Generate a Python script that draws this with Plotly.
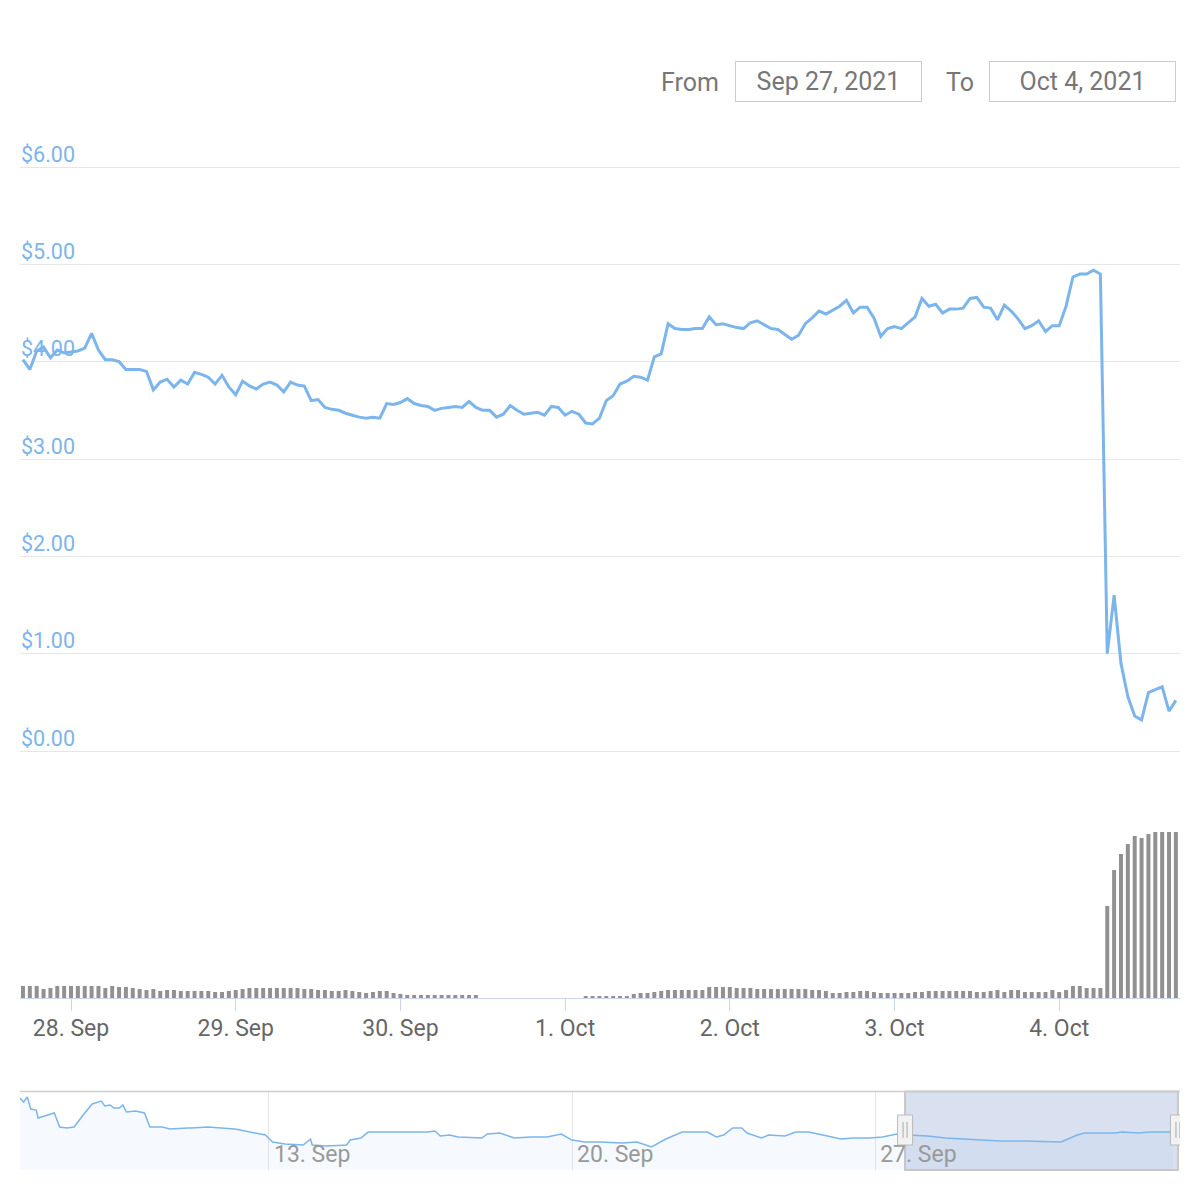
import pandas as pd
import plotly.graph_objects as go

# ---------------- data ----------------
START = "2021-09-27 17:00"

price = [
    4.02, 3.92, 4.11, 4.15, 4.04, 4.12, 4.09, 4.10, 4.11, 4.14,
    4.29, 4.12, 4.02, 4.02, 4.00, 3.92, 3.92, 3.92, 3.90, 3.71,
    3.79, 3.82, 3.74, 3.81, 3.77, 3.89, 3.87, 3.84, 3.77, 3.86,
    3.74, 3.66, 3.80, 3.75, 3.72, 3.77, 3.79, 3.76, 3.69, 3.79,
    3.76, 3.75, 3.60, 3.61, 3.53, 3.51, 3.50, 3.47, 3.45, 3.43,
    3.42, 3.43, 3.42, 3.57, 3.56, 3.58, 3.62, 3.57, 3.55, 3.54,
    3.50, 3.52, 3.53, 3.54, 3.53, 3.59, 3.53, 3.50, 3.50, 3.43,
    3.46, 3.55, 3.50, 3.46, 3.47, 3.48, 3.45, 3.54, 3.53, 3.45,
    3.49, 3.46, 3.37, 3.36, 3.42, 3.60, 3.65, 3.77, 3.80, 3.85,
    3.84, 3.81, 4.05, 4.08, 4.39, 4.34, 4.33, 4.33, 4.34, 4.34,
    4.46, 4.38, 4.39, 4.37, 4.35, 4.34, 4.40, 4.42, 4.38, 4.34,
    4.33, 4.28, 4.23, 4.27, 4.39, 4.45, 4.52, 4.49, 4.53, 4.57,
    4.63, 4.50, 4.56, 4.56, 4.45, 4.26, 4.34, 4.36, 4.34, 4.40,
    4.46, 4.65, 4.57, 4.59, 4.50, 4.54, 4.54, 4.55, 4.65, 4.66,
    4.56, 4.55, 4.43, 4.58, 4.52, 4.44, 4.34, 4.37, 4.42, 4.31,
    4.37, 4.37, 4.57, 4.87, 4.90, 4.90, 4.94, 4.90, 1.00, 1.60,
    0.90, 0.56, 0.36, 0.32, 0.60, 0.63, 0.66, 0.41, 0.52,
]

volume = [
    12, 12, 12, 9, 10, 12, 12, 12, 12, 12,
    12, 12, 10, 12, 11, 11, 10, 9, 8, 9,
    7, 8, 8, 7, 7, 7, 7, 7, 6, 6,
    7, 8, 9, 10, 10, 10, 10, 10, 10, 10,
    10, 9, 9, 8, 8, 7, 7, 8, 7, 6,
    5, 6, 7, 7, 5, 4, 3, 3, 3, 3,
    3, 3, 3, 3, 3, 3, 3,
    0, 0, 0, 0, 0, 0, 0, 0, 0, 0, 0, 0, 0, 0, 0,
    2, 2, 2, 2, 2, 2, 2, 4, 5, 5,
    6, 7, 8, 8, 8, 8, 8, 8,
    11, 11, 11, 11, 10, 10, 10,
    9, 9, 9, 9, 9, 9, 9, 9, 8,
    8, 7, 5, 5, 6, 6, 7, 7, 6, 5,
    5, 5, 5, 5, 6, 6, 7, 7,
    7, 7, 7, 7, 7, 6, 6, 7, 8,
    6, 8, 8, 6, 6, 6, 6, 8, 6, 8, 12, 12, 10, 10, 10,
    92, 128, 144, 154, 162, 160, 164, 166, 166, 166, 166,
]

nav_times = [
    "2021-09-07 06:00", "2021-09-07 08:00", "2021-09-07 10:00", "2021-09-07 12:00",
    "2021-09-07 15:00", "2021-09-07 16:00", "2021-09-08 01:00", "2021-09-08 04:00",
    "2021-09-08 08:00", "2021-09-08 12:00", "2021-09-08 17:00", "2021-09-08 22:00",
    "2021-09-09 03:00", "2021-09-09 05:00", "2021-09-09 08:00", "2021-09-09 10:00",
    "2021-09-09 13:00", "2021-09-09 15:00", "2021-09-09 17:00", "2021-09-09 22:00",
    "2021-09-10 03:00", "2021-09-10 06:00", "2021-09-10 13:00", "2021-09-10 17:00",
    "2021-09-11 03:00", "2021-09-11 05:00", "2021-09-11 14:00", "2021-09-11 23:00",
    "2021-09-12 05:00", "2021-09-12 08:00", "2021-09-12 13:00", "2021-09-12 22:00",
    "2021-09-13 02:00", "2021-09-13 09:00", "2021-09-13 19:00", "2021-09-13 23:00",
    "2021-09-14 00:00", "2021-09-14 08:00", "2021-09-14 19:00", "2021-09-14 21:00",
    "2021-09-15 03:00", "2021-09-15 07:00", "2021-09-16 16:00", "2021-09-16 20:00",
    "2021-09-16 23:00", "2021-09-17 04:00", "2021-09-17 09:00", "2021-09-17 22:00",
    "2021-09-18 01:00", "2021-09-18 08:00", "2021-09-18 16:00", "2021-09-19 01:00",
    "2021-09-19 10:00", "2021-09-19 18:00", "2021-09-20 00:00", "2021-09-20 07:00",
    "2021-09-20 15:00", "2021-09-21 04:00", "2021-09-21 12:00", "2021-09-21 20:00",
    "2021-09-22 04:00", "2021-09-22 13:00", "2021-09-22 21:00", "2021-09-23 03:00",
    "2021-09-23 08:00", "2021-09-23 12:00", "2021-09-23 17:00", "2021-09-23 22:00",
    "2021-09-24 01:00", "2021-09-24 09:00", "2021-09-24 13:00", "2021-09-24 22:00",
    "2021-09-25 04:00", "2021-09-25 11:00", "2021-09-25 19:00", "2021-09-26 05:00",
    "2021-09-26 12:00", "2021-09-26 21:00", "2021-09-27 04:00", "2021-09-27 12:00",
    "2021-09-27 18:00", "2021-09-28 05:00", "2021-09-28 15:00", "2021-09-29 13:00",
    "2021-09-29 21:00", "2021-09-30 10:00", "2021-10-01 07:00", "2021-10-01 16:00",
    "2021-10-01 20:00", "2021-10-02 13:00", "2021-10-02 17:00", "2021-10-03 02:00",
    "2021-10-03 08:00", "2021-10-03 21:00",
]
nav_values = [
    8.57, 8.10, 8.69, 7.26, 7.14, 6.19, 6.79, 5.12,
    5.00, 5.12, 6.55, 7.86, 8.21, 7.62, 7.74, 7.38,
    7.38, 7.74, 6.90, 7.02, 6.79, 5.12, 5.12, 4.88,
    5.00, 5.00, 5.12, 5.00, 4.88, 4.76, 4.52, 4.17,
    3.33, 3.10, 2.98, 3.69, 2.98, 2.86, 2.98, 3.57,
    3.81, 4.52, 4.52, 4.64, 4.05, 4.17, 3.93, 3.81,
    4.29, 4.40, 3.81, 3.93, 3.93, 4.29, 3.57, 3.33,
    3.33, 3.21, 3.33, 2.74, 3.69, 4.52, 4.52, 4.52,
    3.93, 4.17, 5.00, 5.00, 4.40, 3.81, 4.17, 4.05,
    4.52, 4.52, 4.17, 3.69, 3.81, 3.81, 3.93, 4.29,
    4.17, 4.05, 3.81, 3.57, 3.45, 3.45, 3.33, 4.17,
    4.40, 4.40, 4.52, 4.40, 4.52, 4.52,
]

price_ticks = [0, 1, 2, 3, 4, 5, 6]
price_tick_text = ["$%.2f" % v for v in price_ticks]
day_ticks = ["2021-09-28", "2021-09-29", "2021-09-30", "2021-10-01",
             "2021-10-02", "2021-10-03", "2021-10-04"]
nav_ticks = ["2021-09-13", "2021-09-20", "2021-09-27"]
range_from_label = "Sep 27, 2021"
range_to_label = "Oct 4, 2021"

# ---------------- figure ----------------
times = pd.date_range(START, periods=len(price), freq="h")

OFF = 8.0            # page body margin
W = H = 1192.0

def px(p):  # page column -> paper x
    return (p - OFF) / W

def py(p):  # page row -> paper y
    return 1 - (p - OFF) / H

xdom = [px(20), px(1180)]
main_range = ["2021-09-27 16:34", "2021-10-04 17:36"]
nav_range = ["2021-09-07 06:00", "2021-10-04 00:58"]
sel_range = ["2021-09-27 16:34", "2021-10-03 23:50"]
NAV_MAX = 9.29
PX_PER_DOLLAR = (751 - 167) / 6.0
Y_TOP = 6.3
Y_BOT = -0.05
FONT = "Roboto"

fig = go.Figure()
fig.add_trace(go.Scatter(x=times, y=price, mode="lines",
                         line=dict(color="#7cb5ec", width=3),
                         xaxis="x", yaxis="y", hoverinfo="skip"))
fig.add_trace(go.Bar(x=times, y=volume, marker=dict(color="#919191", line=dict(width=0)),
                     width=0.58 * 3600 * 1000, xaxis="x2", yaxis="y2", hoverinfo="skip"))
fig.add_trace(go.Scatter(x=nav_times, y=nav_values, mode="lines",
                         line=dict(color="#7cb5ec", width=1.5),
                         fill="tozeroy", fillcolor="rgba(124,181,236,0.07)",
                         xaxis="x3", yaxis="y3", hoverinfo="skip"))

fig.update_layout(
    width=int(W), height=int(H),
    margin=dict(l=0, r=0, t=0, b=0),
    paper_bgcolor="white", plot_bgcolor="white",
    showlegend=False,
    font=dict(family=FONT, color="#666666"),
    xaxis=dict(domain=xdom, anchor="y", type="date", range=main_range,
               showticklabels=False, showgrid=False, zeroline=False, showline=False),
    yaxis=dict(domain=[py(751 - Y_BOT * PX_PER_DOLLAR), py(751 - Y_TOP * PX_PER_DOLLAR)],
               anchor="x", range=[Y_BOT, Y_TOP], tickvals=price_ticks,
               showticklabels=False, ticks="",
               showgrid=True, gridcolor="#e6e6e6", gridwidth=1,
               zeroline=False, showline=False),
    xaxis2=dict(domain=xdom, anchor="y2", type="date", matches="x",
                tickvals=day_ticks, tickformat="%-d. %b",
                ticks="outside", ticklen=12, tickcolor="#ccd6eb", tickwidth=1,
                ticklabelstandoff=-3,
                showline=True, linecolor="#ccd6eb", linewidth=1,
                showgrid=False, zeroline=False,
                tickfont=dict(size=23, color="#666666", family=FONT)),
    yaxis2=dict(domain=[py(998), py(832)], anchor="x2", range=[0, 166], visible=False),
    xaxis3=dict(domain=xdom, anchor="y3", type="date", range=nav_range,
                tickvals=nav_ticks, tickformat="%-d. %b",
                ticklabelposition="inside right", ticks="", ticklabelshift=5,
                ticklabelstandoff=-3,
                showgrid=True, gridcolor="#e6e6e6", gridwidth=1,
                showline=False, zeroline=False,
                tickfont=dict(size=23, color="#999999", family=FONT)),
    yaxis3=dict(domain=[py(1170), py(1092)], anchor="x3", range=[0, NAV_MAX], visible=False),
)

shapes = []
# navigator top outline
shapes.append(dict(type="line", xref="paper", yref="paper", x0=xdom[0], x1=xdom[1],
                   y0=py(1091.5), y1=py(1091.5), line=dict(color="#cccccc", width=1.5)))
# selected region mask
shapes.append(dict(type="rect", xref="x3", yref="paper", x0=sel_range[0], x1=sel_range[1],
                   y0=py(1170), y1=py(1091.5), fillcolor="rgba(102,133,194,0.25)",
                   line=dict(color="#c8c8c8", width=2), layer="below"))
# handles
hy = NAV_MAX * (1170 - 1130) / 78.0
for t in sel_range:
    shapes.append(dict(type="rect", xref="x3", yref="y3", xsizemode="pixel", ysizemode="pixel",
                       xanchor=t, yanchor=hy, x0=-7.5, x1=7.5, y0=-15, y1=15,
                       fillcolor="#f2f2f2", line=dict(color="#bbbbbb", width=1)))
    for dx in (-2, 2):
        shapes.append(dict(type="line", xref="x3", yref="y3", xsizemode="pixel", ysizemode="pixel",
                           xanchor=t, yanchor=hy, x0=dx, x1=dx, y0=-8, y1=8,
                           line=dict(color="#aaaaaa", width=1)))
fig.update_layout(shapes=shapes)

box_font = dict(size=25, color="#777777", family=FONT)
annotations = [
    dict(text="From", xref="paper", yref="paper", x=px(721), y=py(82), xanchor="right",
         yanchor="middle", showarrow=False, font=box_font),
    dict(text=range_from_label, xref="paper", yref="paper", x=px(735), y=py(61),
         xanchor="left", yanchor="top", showarrow=False, width=179, height=33,
         bordercolor="#cccccc", borderwidth=1, borderpad=3, align="center",
         font=box_font),
    dict(text="To", xref="paper", yref="paper", x=px(976), y=py(82), xanchor="right",
         yanchor="middle", showarrow=False, font=box_font),
    dict(text=range_to_label, xref="paper", yref="paper", x=px(989), y=py(61),
         xanchor="left", yanchor="top", showarrow=False, width=179, height=33,
         bordercolor="#cccccc", borderwidth=1, borderpad=3, align="center",
         font=box_font),
]
# y-axis labels drawn above their gridlines (Highcharts style)
for v, txt in zip(price_ticks, price_tick_text):
    annotations.append(dict(text=txt, xref="paper", yref="y", x=px(20), y=v,
                            xanchor="left", yanchor="middle", yshift=13, xshift=-1,
                            showarrow=False,
                            font=dict(size=21.5, color="#7cb5ec", family=FONT)))
fig.update_layout(annotations=annotations)

fig.write_html("out.html")
